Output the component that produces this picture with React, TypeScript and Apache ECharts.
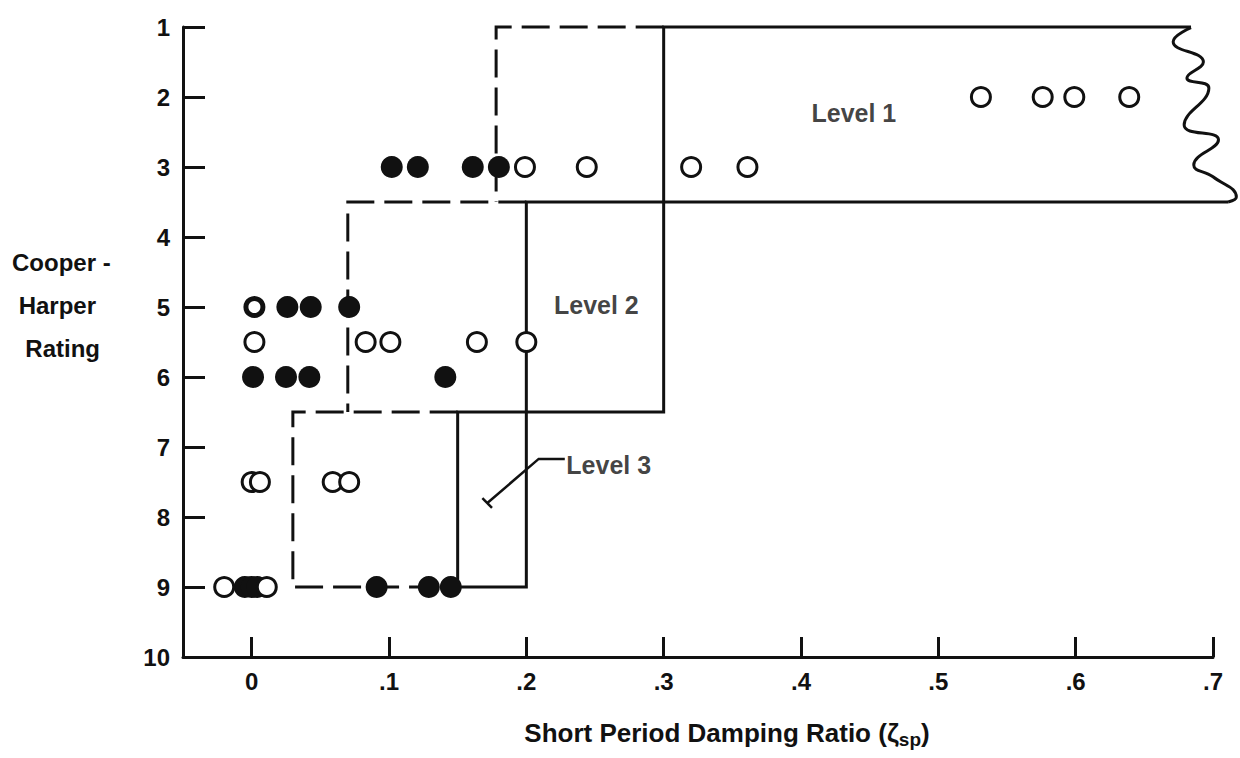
import React, { useEffect, useRef } from "react";
import * as echarts from "echarts";

// ---- data ----
const X_TICKS = [0, 0.1, 0.2, 0.3, 0.4, 0.5, 0.6, 0.7];

// filled symbols [damping ratio, Cooper-Harper rating]
const FILLED: number[][] = [
  [0.102, 3], [0.121, 3], [0.161, 3], [0.18, 3],
  [0.026, 5], [0.043, 5], [0.071, 5],
  [0.001, 6], [0.025, 6], [0.042, 6], [0.141, 6],
  [-0.005, 9], [0.0, 9], [0.004, 9], [0.091, 9], [0.129, 9], [0.145, 9],
];

// open symbols
const OPEN: number[][] = [
  [0.531, 2], [0.576, 2], [0.599, 2], [0.639, 2],
  [0.199, 3], [0.244, 3], [0.32, 3], [0.361, 3],
  [0.002, 5.5], [0.083, 5.5], [0.101, 5.5], [0.164, 5.5], [0.2, 5.5],
  [0.0, 7.5], [0.006, 7.5], [0.059, 7.5], [0.071, 7.5],
  [-0.02, 9], [0.011, 9],
];
const OPEN_THICK: number[][] = [[0.002, 5]];

// boundaries (solid)
const SOLID_BOUNDARY: number[][] = [
  [0.684, 1], [0.3, 1], [0.3, 6.5], [0.15, 6.5], [0.15, 9], [0.2, 9], [0.2, 3.5], [0.711, 3.5],
];
// break line at right end
const WAVY_EDGE: number[][] = [
  [0.684, 1.01], [0.671, 1.21], [0.693, 1.5], [0.681, 1.73], [0.697, 1.87],
  [0.679, 2.4], [0.704, 2.61], [0.686, 2.97], [0.7, 3.14], [0.717, 3.43], [0.711, 3.5],
];
// boundaries (dashed)
const DASHED_A: number[][] = [[0.3, 1], [0.178, 1], [0.178, 3.5]];
const DASHED_B: number[][] = [[0.2, 3.5], [0.07, 3.5], [0.07, 6.5]];
const DASHED_C: number[][] = [[0.15, 6.5], [0.03, 6.5], [0.03, 9], [0.15, 9]];

// level labels
const LEVEL_LABELS: { name: string; value: number[] }[] = [
  { name: "Level 1", value: [0.4385, 2.23] },
  { name: "Level 2", value: [0.251, 4.97] },
  { name: "Level 3", value: [0.26, 7.26] },
];
const LEADER: number[][] = [[0.228, 7.17], [0.209, 7.17], [0.1716, 7.8]];
const LEADER_END: number[][] = [[0.168, 7.73], [0.175, 7.87]];

const X_MIN = -0.05;
const X_MAX = 0.7;
const X_MAX_EXT = 0.73;

const FONT = "'Liberation Sans', Arial, Helvetica, sans-serif";
const INK = "#111";

export default function App() {
  const ref = useRef<HTMLDivElement>(null);
  useEffect(() => {
    document.body.style.margin = "0";
    if (!ref.current) return;
    const chart = echarts.init(ref.current, undefined, { renderer: "svg" });
    const plotW = 1240 - 183 - 27;
    const extW = (plotW * (X_MAX_EXT - X_MIN)) / (X_MAX - X_MIN);
    const line = (data: number[][], dashed = false, width = 3, smooth: number | boolean = false) => ({
      type: "line",
      data,
      xAxisIndex: 1,
      yAxisIndex: 1,
      symbol: "none",
      clip: false,
      silent: true,
      smooth,
      z: 2,
      lineStyle: { color: INK, width, type: dashed ? [28, 10] : "solid", cap: "butt", join: "miter" },
    });
    chart.setOption({
      animation: false,
      backgroundColor: "#fff",
      grid: [
        { left: 183, right: 27, top: 27, bottom: 101, containLabel: false, outerBoundsMode: "none" },
        { left: 183, width: extW, top: 27, bottom: 101, containLabel: false, outerBoundsMode: "none" },
      ],
      xAxis: [
        {
          type: "value",
          gridIndex: 0,
          min: X_MIN,
          max: X_MAX,
          splitLine: { show: false },
          axisLine: { show: true, onZero: false, lineStyle: { color: INK, width: 3 } },
          axisTick: { show: true, inside: true, length: 20, lineStyle: { color: INK, width: 3 }, customValues: X_TICKS },
          axisLabel: {
            show: true,
            customValues: X_TICKS,
            margin: 12,
            color: INK,
            fontSize: 24,
            fontWeight: "bold",
            fontFamily: FONT,
            formatter: (v: number) => (Math.abs(v) < 1e-9 ? "0" : "." + Math.round(v * 10)),
          },
        },
        { type: "value", gridIndex: 1, min: X_MIN, max: X_MAX_EXT, show: false },
      ],
      yAxis: [
        {
          type: "value",
          gridIndex: 0,
          min: 1,
          max: 10,
          interval: 1,
          inverse: true,
          splitLine: { show: false },
          axisLine: { show: true, onZero: false, lineStyle: { color: INK, width: 3 } },
          axisTick: { show: true, inside: true, length: 22, lineStyle: { color: INK, width: 3 } },
          axisLabel: { margin: 13, color: INK, fontSize: 24, fontWeight: "bold", fontFamily: FONT },
        },
        { type: "value", gridIndex: 1, min: 1, max: 10, inverse: true, show: false },
      ],
      graphic: [
        {
          type: "text",
          left: 12,
          top: 241,
          style: {
            text: "Cooper -\n Harper\n  Rating",
            fill: INK,
            fontSize: 24,
            fontWeight: "bold",
            fontFamily: FONT,
            lineHeight: 43,
          },
        },
        {
          type: "text",
          x: 727,
          y: 733,
          style: {
            text: "Short Period Damping Ratio (ζ{sub|sp})",
            fill: INK,
            fontSize: 26,
            fontWeight: "bold",
            fontFamily: FONT,
            align: "center",
            verticalAlign: "middle",
            rich: { sub: { fontSize: 19, fontWeight: "bold", fontFamily: FONT, fill: INK, padding: [13, 0, 0, 0] } },
          },
        },
      ],
      series: [
        line(SOLID_BOUNDARY),
        line(WAVY_EDGE, false, 3, 0.5),
        line(DASHED_A, true),
        line(DASHED_B, true),
        line(DASHED_C, true),
        line(LEADER, false, 2.5),
        line(LEADER_END, false, 2.5),
        {
          type: "scatter",
          data: FILLED,
          symbol: "circle",
          symbolSize: 22,
          z: 3,
          itemStyle: { color: INK, opacity: 1 },
        },
        {
          type: "scatter",
          data: OPEN,
          symbol: "circle",
          symbolSize: 19,
          z: 4,
          itemStyle: { color: "#fff", borderColor: INK, borderWidth: 3, opacity: 1 },
        },
        {
          type: "scatter",
          data: OPEN_THICK,
          symbol: "circle",
          symbolSize: 17,
          z: 4,
          itemStyle: { color: "#fff", borderColor: INK, borderWidth: 5, opacity: 1 },
        },
        {
          type: "scatter",
          data: LEVEL_LABELS,
          symbolSize: 0,
          z: 5,
          itemStyle: { color: "transparent" },
          label: {
            show: true,
            position: "inside",
            formatter: (p: any) => p.name,
            color: INK,
            fontSize: 25,
            fontWeight: "bold",
            fontFamily: FONT,
          },
        },
      ],
    });
    return () => chart.dispose();
  }, []);
  return <div ref={ref} style={{ width: 1240, height: 758 }} />;
}
